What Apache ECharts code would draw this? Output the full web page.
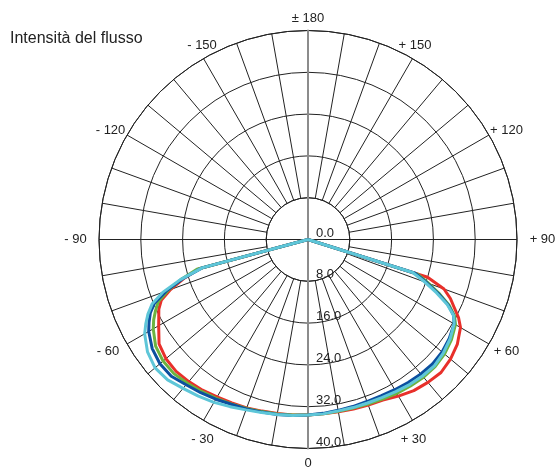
<!DOCTYPE html>
<html><head><meta charset="utf-8">
<script src="https://cdn.jsdelivr.net/npm/echarts/dist/echarts.min.js"></script>
<style>html,body{margin:0;padding:0;background:#fff}#c{width:557px;height:469px}</style>
</head><body><div id="c"></div>
<script>
const titleText = 'Intensità del flusso';
// angles in degrees: 0 = bottom, + = right side, - = left side
const angles = [-180, -90, -77.5, -75, -72.5, -70, -67.5, -65, -62.5, -60, -55, -50, -45, -40, -35, -30, -25, -20, -15, -10, -5, 0, 5, 10, 15, 20, 25, 30, 35, 40, 45, 50, 55, 60, 62.5, 65, 67.5, 70, 72.5, 75, 90, 180];
const redValues   = [0, 0, 0, 21.5, 25.0, 28.0, 30.4, 31.5, 32.2, 33.0, 34.8, 35.5, 35.7, 35.5, 35.2, 34.8, 34.5, 34.3, 34.0, 33.8, 33.7, 33.6, 33.5, 33.5, 33.6, 33.7, 33.9, 34.6, 35.3, 35.7, 36.0, 35.6, 34.9, 33.7, 32.5, 30.9, 29.5, 27.7, 24.0, 0, 0, 0];
const greenValues = [0, 0, 0, 22.0, 25.5, 28.5, 31.0, 32.2, 33.3, 34.2, 35.6, 36.2, 36.3, 35.9, 35.5, 35.1, 34.7, 34.4, 34.1, 33.9, 33.7, 33.6, 33.5, 33.4, 33.4, 33.5, 33.7, 34.0, 34.2, 34.4, 34.4, 34.1, 33.5, 32.6, 31.6, 29.8, 27.3, 24.6, 22.0, 0, 0, 0];
const blueValues  = [0, 0, 0, 21.0, 25.3, 28.9, 31.8, 33.3, 34.3, 35.2, 36.4, 37.0, 37.0, 36.3, 35.8, 35.3, 34.8, 34.5, 34.2, 34.0, 33.8, 33.6, 33.4, 33.2, 33.1, 33.0, 33.0, 33.2, 33.4, 33.6, 33.7, 33.5, 33.0, 32.3, 31.4, 29.6, 27.0, 24.2, 21.5, 0, 0, 0];
const cyanValues  = [0, 0, 0, 21.0, 25.7, 29.6, 32.3, 33.8, 35.0, 36.1, 37.5, 38.2, 38.0, 37.2, 36.6, 36.0, 35.3, 34.7, 34.3, 34.0, 33.8, 33.6, 33.5, 33.3, 33.3, 33.3, 33.4, 33.6, 33.9, 34.1, 34.2, 33.8, 33.2, 32.3, 31.4, 29.4, 26.6, 23.8, 21.0, 0, 0, 0];
const radialTicks = [0, 8, 16, 24, 32, 40];
const angleTickLabels = {0: '0', 30: '+ 30', 60: '+ 60', 90: '+ 90', 120: '+ 120', 150: '+ 150', 180: '± 180', 210: '- 150', 240: '- 120', 270: '- 90', 300: '- 60', 330: '- 30'};

// layout / style constants
const FONT = '"Liberation Sans", Arial, sans-serif';
const TXT = '#222';
const C = [308, 239.5], R = 209;
const LABEL_DIST = 224, BIG = 10000;
// fine shifts [dx, dy] in px of angle labels
const labelShift = {0: [0, 0], 30: [-6.5, 5.5], 60: [4.5, 0], 90: [10.5, 0], 120: [4.5, 2.5], 150: [-5, 0], 180: [0, 2.5], 210: [6, 0], 240: [-3.5, 2.5], 270: [-8.5, 0], 300: [-6, 0], 330: [6.5, 5.5]};

const rMin = radialTicks[0], rMax = radialTicks[radialTicks.length - 1], rStep = radialTicks[1] - radialTicks[0];
const R0 = R * rStep / rMax;

const rich = {};
Object.keys(angleTickLabels).forEach(v => {
  const [sx, sy] = labelShift[v];
  rich['a' + v] = {
    fontSize: 13, fontFamily: FONT, color: TXT,
    padding: [Math.max(sy, 0) * 2, Math.max(-sx, 0) * 2, Math.max(-sy, 0) * 2, Math.max(sx, 0) * 2]
  };
});

function toData(vals) {
  return angles.map((a, i) => [vals[i], a < 0 ? a + 360 : a]);
}
function lineSeries(name, vals, color) {
  return {
    name, type: 'line', coordinateSystem: 'polar', polarIndex: 2,
    data: toData(vals), showSymbol: false, symbol: 'none', smooth: false,
    lineStyle: { color, width: 3 }, z: 5
  };
}
const hidden = { show: false };
const greyLine = { show: true, lineStyle: { color: '#8c8c8c', width: 2 } };
const chart = echarts.init(document.getElementById('c'));
chart.setOption({
  animation: false,
  title: { text: titleText, left: 5, top: 26, textStyle: { fontFamily: FONT, fontSize: 16, fontWeight: 'normal', color: TXT } },
  polar: [
    { center: C, radius: [R0, R] },
    { center: C, radius: [0, R] },
    { center: C, radius: [0, R] },
    { center: C, radius: [0, BIG] }
  ],
  angleAxis: [
    { polarIndex: 0, type: 'value', min: 0, max: 360, interval: 10, startAngle: 270, clockwise: false,
      axisLine: { show: true, lineStyle: { color: TXT, width: 1 } },
      axisTick: hidden, axisLabel: hidden,
      splitLine: { show: true, lineStyle: { color: TXT, width: 1 } }, z: 1 },
    { polarIndex: 1, type: 'value', min: 0, max: 360, interval: 90, startAngle: 90, clockwise: false,
      axisLine: hidden, axisTick: hidden, axisLabel: hidden,
      splitLine: { show: true, lineStyle: { color: ['rgba(0,0,0,0)', TXT], width: 1 } }, z: 2 },
    { polarIndex: 2, type: 'value', min: 0, max: 360, interval: 90, startAngle: 270, clockwise: false,
      axisLine: hidden, axisTick: hidden, axisLabel: hidden, splitLine: hidden, z: 3 },
    { polarIndex: 3, type: 'value', min: 0, max: 360, interval: 30, startAngle: 270, clockwise: false,
      axisLine: hidden, axisTick: hidden, splitLine: hidden,
      axisLabel: { show: true, margin: LABEL_DIST - BIG, rich, formatter: v => angleTickLabels[v] !== undefined ? '{a' + v + '|' + angleTickLabels[v] + '}' : '' },
      z: 4 }
  ],
  radiusAxis: [
    { polarIndex: 0, type: 'value', min: rStep, max: rMax, interval: rStep,
      axisLine: hidden, axisTick: hidden, axisLabel: hidden,
      splitLine: { show: true, lineStyle: { color: TXT, width: 1 } }, z: 1 },
    { polarIndex: 1, type: 'value', min: rMin, max: rMax, interval: rStep,
      axisLine: greyLine, axisTick: hidden, axisLabel: hidden, splitLine: hidden, z: 3 },
    { polarIndex: 2, type: 'value', min: rMin, max: rMax, interval: rStep,
      axisLine: greyLine, axisTick: hidden, splitLine: hidden,
      axisLabel: { show: true, margin: 8, align: 'left', verticalAlign: 'bottom', color: TXT, fontSize: 13, fontFamily: FONT, formatter: v => v.toFixed(1) },
      z: 4 },
    { polarIndex: 3, type: 'value', min: rMin, max: rMax,
      axisLine: hidden, axisTick: hidden, axisLabel: hidden, splitLine: hidden }
  ],
  series: [
    lineSeries('Rosso', redValues, '#e8302a'),
    lineSeries('Verde', greenValues, '#6cb33f'),
    lineSeries('Blu', blueValues, '#0b4f9f'),
    lineSeries('Ciano', cyanValues, '#5ec6d8')
  ]
});
</script>
</body></html>
